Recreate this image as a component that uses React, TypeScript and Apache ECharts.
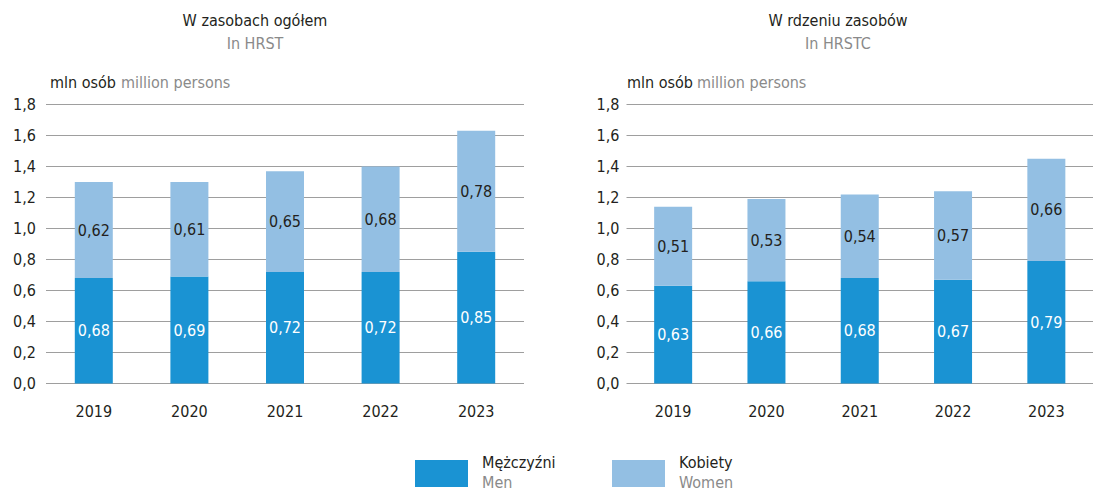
import React, { useEffect, useRef } from "react";
import * as echarts from "echarts";

const years = ["2019", "2020", "2021", "2022", "2023"];
const hrstMen = [0.68, 0.69, 0.72, 0.72, 0.85];
const hrstWomen = [0.62, 0.61, 0.65, 0.68, 0.78];
const hrstcMen = [0.63, 0.66, 0.68, 0.67, 0.79];
const hrstcWomen = [0.51, 0.53, 0.54, 0.57, 0.66];

const FONT = "'Liberation Sans Narrow', 'DejaVu Sans Condensed', 'Roboto Condensed', sans-serif";
const DARK = "#231f20";
const GRAY = "#8a8a8a";
const MEN = "#1a93d3";
const WOMEN = "#93bfe3";

const fmt2 = (v: number) => v.toFixed(2).replace(".", ",");
const fmt1 = (v: number) => v.toFixed(1).replace(".", ",");

export default function App() {
  const ref = useRef<HTMLDivElement>(null);
  useEffect(() => {
    if (!ref.current) return;
    const chart = echarts.init(ref.current, undefined, { renderer: "svg" });
    const yAxis = (gridIndex: number, margin: number) => ({
      type: "value",
      gridIndex,
      min: 0,
      max: 1.8,
      interval: 0.2,
      axisLine: { show: false },
      axisTick: { show: false },
      splitLine: { lineStyle: { color: "#9e9e9e", width: 1 } },
      axisLabel: {
        formatter: (v: number) => fmt1(v),
        color: DARK,
        fontFamily: FONT,
        fontSize: 16,
        margin,
      },
    });
    const xAxis = (gridIndex: number) => ({
      type: "category",
      gridIndex,
      data: years,
      axisLine: { show: false },
      axisTick: { show: false },
      axisLabel: { color: DARK, fontFamily: FONT, fontSize: 16, margin: 20 },
    });
    const bar = (name: string, data: number[], idx: number, color: string, labelColor: string) => ({
      name,
      type: "bar",
      stack: "s" + idx,
      xAxisIndex: idx,
      yAxisIndex: idx,
      data,
      barWidth: 38,
      itemStyle: { color },
      label: {
        show: true,
        position: "inside",
        formatter: (p: any) => fmt2(p.value),
        color: labelColor,
        fontFamily: FONT,
        fontSize: 16,
      },
    });
    const txt = (x: number, y: number, text: string, color: string, align = "center") => ({
      type: "text",
      x,
      y,
      style: {
        text,
        fill: color,
        font: `16px ${FONT}`,
        textAlign: align,
        textVerticalAlign: "middle",
      },
    });
    chart.setOption({
      animation: false,
      grid: [
        { left: 46, width: 478, top: 104.5, bottom: 108.5 },
        { left: 626.5, width: 478, top: 104.5, bottom: 108.5 },
      ],
      xAxis: [xAxis(0), xAxis(1)],
      yAxis: [yAxis(0, 10), yAxis(1, 7)],
      series: [
        bar("Mężczyźni", hrstMen, 0, MEN, "#ffffff"),
        bar("Kobiety", hrstWomen, 0, WOMEN, DARK),
        bar("Mężczyźni", hrstcMen, 1, MEN, "#ffffff"),
        bar("Kobiety", hrstcWomen, 1, WOMEN, DARK),
      ],
      graphic: [
        txt(255, 20, "W zasobach ogółem", DARK),
        txt(255, 43, "In HRST", GRAY),
        txt(838, 20, "W rdzeniu zasobów", DARK),
        txt(838, 43, "In HRSTC", GRAY),
        txt(50, 82, "mln osób", DARK, "left"),
        txt(121, 82, "million persons", GRAY, "left"),
        txt(627, 82, "mln osób", DARK, "left"),
        txt(697, 82, "million persons", GRAY, "left"),
        { type: "rect", shape: { x: 415, y: 460, width: 53, height: 27 }, style: { fill: MEN } },
        txt(482, 462, "Mężczyźni", DARK, "left"),
        txt(482, 482, "Men", GRAY, "left"),
        { type: "rect", shape: { x: 612, y: 460, width: 53, height: 27 }, style: { fill: WOMEN } },
        txt(679, 462, "Kobiety", DARK, "left"),
        txt(679, 482, "Women", GRAY, "left"),
      ],
    });
    return () => chart.dispose();
  }, []);
  return (
    <div
      ref={ref}
      style={{ position: "absolute", left: 0, top: 0, width: 1093, height: 492, overflow: "hidden" }}
    />
  );
}
